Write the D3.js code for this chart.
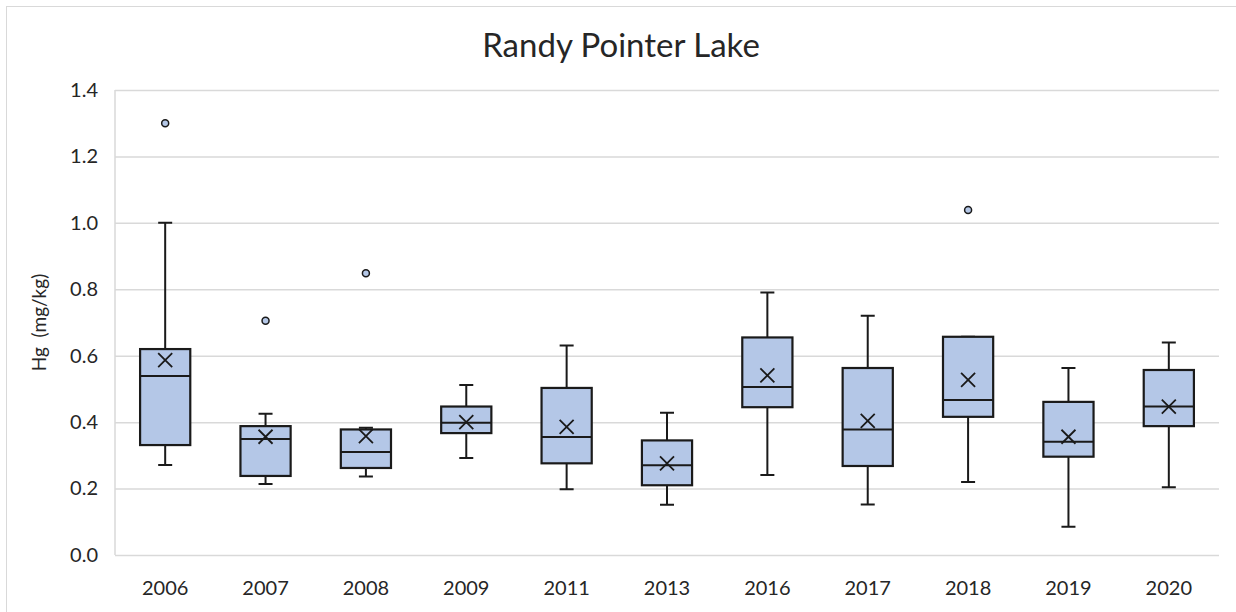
<!DOCTYPE html>
<html>
<head>
<meta charset="utf-8">
<script src="https://cdn.jsdelivr.net/npm/d3@7"></script>
<style>
  body { margin: 0; background: #fff; }
  text { font-family: Lato, "Noto Sans", sans-serif; fill: #262626; }
</style>
</head>
<body>
<div id="chartContainer"></div>
<script>
// values (mg/kg)
const years = ["2006", "2007", "2008", "2009", "2011", "2013", "2016", "2017", "2018", "2019", "2020"]
const whiskerLow  = [0.271, 0.214, 0.236, 0.292, 0.198, 0.151, 0.241, 0.152, 0.220, 0.085, 0.204]
const q1          = [0.331, 0.238, 0.262, 0.367, 0.276, 0.210, 0.445, 0.268, 0.416, 0.296, 0.388]
const median      = [0.539, 0.349, 0.310, 0.398, 0.355, 0.270, 0.506, 0.378, 0.467, 0.341, 0.447]
const q3          = [0.620, 0.388, 0.378, 0.447, 0.503, 0.345, 0.655, 0.563, 0.657, 0.461, 0.557]
const whiskerHigh = [1.000, 0.425, 0.383, 0.512, 0.631, 0.428, 0.790, 0.720, 0.657, 0.563, 0.640]
const mean        = [0.587, 0.356, 0.358, 0.400, 0.386, 0.276, 0.541, 0.404, 0.527, 0.356, 0.447]
const outliers    = [[1.30], [0.705], [0.848], [], [], [], [], [], [1.039], [], []]
const yTicks = [0, 0.2, 0.4, 0.6, 0.8, 1.0, 1.2, 1.4]

const width = 1236, height = 612
const margin = {top: 90, right: 17, bottom: 57, left: 115}

const boxes = years.map((y, i) => ({
  year: y, lo: whiskerLow[i], q1: q1[i], med: median[i], q3: q3[i],
  hi: whiskerHigh[i], mean: mean[i], out: outliers[i]
}))

const x = d3.scaleBand()
    .domain(years)
    .range([margin.left, width - margin.right])
    .paddingInner(0.5)
    .paddingOuter(0.25)

const y = d3.scaleLinear()
    .domain([0, 1.4])
    .range([height - margin.bottom, margin.top])

const svg = d3.select('#chartContainer')
  .append('svg')
  .attr('width', width)
  .attr('height', height)

// chart area frame
svg.append("rect")
    .attr("x", 6.5).attr("y", 6.5)
    .attr("width", width + 20).attr("height", height + 20)
    .attr("fill", "none")
    .attr("stroke", "#d9d9d9")

svg.append("text")
    .attr("x", 621)
    .attr("y", 57)
    .attr("text-anchor", "middle")
    .style("font-size", "33px")
    .text("Randy Pointer Lake")

// gridlines + y labels
const yAxis = g => g
    .attr("transform", `translate(${margin.left},0)`)
    .call(d3.axisLeft(y).tickValues(yTicks).tickFormat(d3.format(".1f"))
      .tickSize(-(width - margin.left - margin.right)).tickPadding(17))
    .call(g => g.select(".domain").remove())
    .call(g => g.selectAll(".tick line").attr("stroke", "#d9d9d9").attr("stroke-width", 1.5))
    .call(g => g.selectAll(".tick text").style("font-size", "20px").attr("fill", "#262626"))

svg.append("g").call(yAxis)

svg.append("line")
    .attr("x1", margin.left).attr("x2", margin.left)
    .attr("y1", margin.top).attr("y2", height - margin.bottom)
    .attr("stroke", "#d9d9d9").attr("stroke-width", 1.5)

const xAxis = g => g
    .attr("transform", `translate(0,${height - margin.bottom})`)
    .call(d3.axisBottom(x).tickSize(0).tickPadding(26))
    .call(g => g.select(".domain").remove())
    .call(g => g.selectAll(".tick text").style("font-size", "20px").attr("fill", "#262626"))

svg.append("g").call(xAxis)

const ink = "#1a1a1a"
const bw = x.bandwidth()
const cap = 14

const serie = svg.append("g")
  .selectAll("g")
  .data(boxes)
  .join("g")
    .attr("transform", d => `translate(${x(d.year)},0)`)

// whiskers
serie.append("path")
    .attr("fill", "none")
    .attr("stroke", ink)
    .attr("stroke-width", 2)
    .attr("d", d => `M${bw / 2},${y(d.q3)}V${y(d.hi)}M${bw / 2 - cap / 2},${y(d.hi)}h${cap}` +
                    `M${bw / 2},${y(d.q1)}V${y(d.lo)}M${bw / 2 - cap / 2},${y(d.lo)}h${cap}`)

serie.append("rect")
    .attr("x", 0)
    .attr("width", bw)
    .attr("y", d => y(d.q3))
    .attr("height", d => y(d.q1) - y(d.q3))
    .attr("fill", "#b4c7e7")
    .attr("stroke", ink)
    .attr("stroke-width", 2.2)

serie.append("line")
    .attr("x1", 0).attr("x2", bw)
    .attr("y1", d => y(d.med)).attr("y2", d => y(d.med))
    .attr("stroke", ink)
    .attr("stroke-width", 2)

// mean markers
const m = 7
serie.append("path")
    .attr("fill", "none")
    .attr("stroke", ink)
    .attr("stroke-width", 1.8)
    .attr("d", d => `M${bw / 2 - m},${y(d.mean) - m}l${2 * m},${2 * m}M${bw / 2 - m},${y(d.mean) + m}l${2 * m},${-2 * m}`)

serie.selectAll("circle")
  .data(d => d.out)
  .join("circle")
    .attr("cx", bw / 2)
    .attr("cy", d => y(d))
    .attr("r", 3.5)
    .attr("fill", "#b4c7e7")
    .attr("stroke", ink)
    .attr("stroke-width", 1.5)

svg.append("text")
    .attr("transform", `translate(46,${(margin.top + height - margin.bottom) / 2}) rotate(-90)`)
    .attr("text-anchor", "middle")
    .style("font-size", "19px")
    .attr("xml:space", "preserve")
    .text("Hg  (mg/kg)")

svg.node()
</script>
</body>
</html>
